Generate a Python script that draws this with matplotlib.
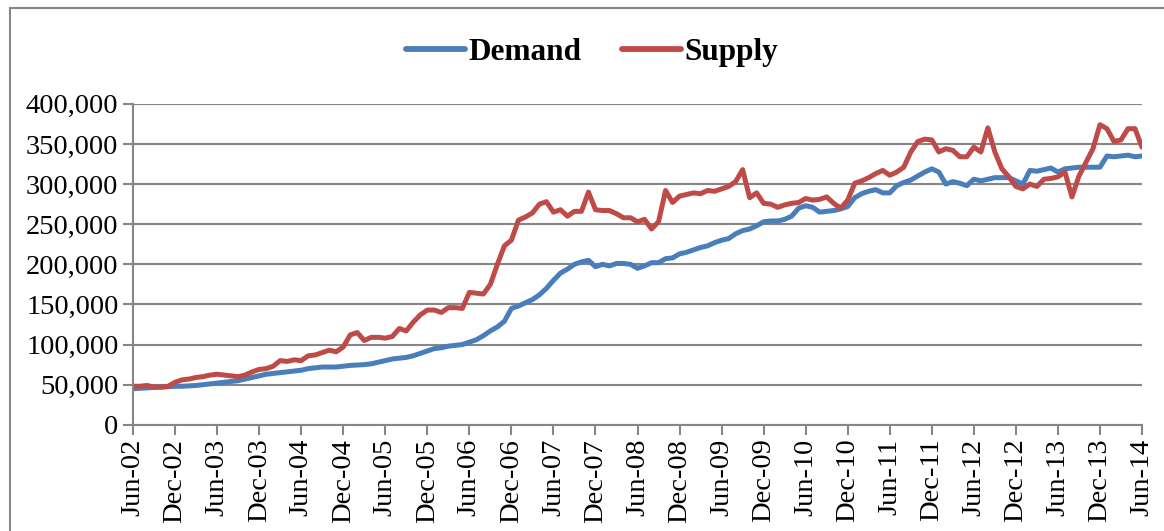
import matplotlib.pyplot as plt
from matplotlib.patches import Rectangle
from matplotlib.ticker import FuncFormatter, MultipleLocator

plt.rcParams['font.family'] = ['Liberation Serif', 'DejaVu Serif']

# monthly values, Jun-02 .. Jun-14
demand = [45, 45.5, 46, 46.5, 47, 47.5, 48, 48, 48.5, 49, 50, 51,
          52, 53, 54, 55, 57, 59, 61, 63, 64, 65, 66, 67,
          68, 70, 71, 72, 72, 72, 73, 74, 74.5, 75, 76, 78,
          80, 82, 83, 84, 86, 89, 92, 95, 96, 98, 99, 100,
          103, 106, 111, 117, 122, 129, 145, 148, 152, 156, 162, 170,
          180, 189, 194, 200, 203, 205, 197, 200, 198, 201, 201, 200,
          195, 198, 202, 202, 207, 208, 213, 215, 218, 221, 223, 227,
          230, 232, 238, 242, 244, 248, 253, 254, 254, 256, 260, 270,
          273, 271, 265, 266, 267, 269, 272, 283, 288, 291, 293, 289,
          289, 298, 302, 305, 310, 315, 319, 315, 300, 303, 301, 298,
          306, 304, 306, 308, 308, 308, 304, 300, 317, 316, 318, 320,
          315, 319, 320, 321, 321, 321, 321, 335, 334, 335, 336, 334,
          335]
supply = [48, 48, 49, 47, 47, 48, 53, 56, 57, 59, 60, 62,
          63, 62, 61, 60, 62, 66, 69, 70, 73, 80, 79, 81,
          80, 86, 87, 90, 93, 91, 97, 112, 115, 105, 109, 109,
          108, 110, 120, 117, 128, 137, 143, 143, 140, 146, 146, 145,
          165, 164, 163, 175, 200, 223, 230, 255, 259, 264, 275, 278,
          265, 268, 260, 266, 266, 290, 268, 267, 267, 263, 258, 258,
          253, 256, 244, 253, 292, 277, 285, 287, 289, 288, 292, 291,
          294, 297, 303, 318, 283, 289, 276, 275, 271, 274, 276, 277,
          282, 280, 281, 284, 276, 270, 280, 301, 304, 308, 313, 317,
          311, 315, 321, 340, 353, 356, 355, 340, 344, 342, 334, 334,
          346, 340, 370, 340, 319, 309, 297, 294, 300, 297, 306, 307,
          309, 315, 284, 310, 327, 344, 374, 369, 353, 355, 369, 369,
          346]
demand = [v * 1000 for v in demand]
supply = [v * 1000 for v in supply]

tick_labels = []
for yr in range(2, 15):
    tick_labels.append('Jun-%02d' % yr)
    if yr < 14:
        tick_labels.append('Dec-%02d' % yr)

months = list(range(len(demand)))

fig = plt.figure(figsize=(11.64, 5.31), dpi=100)
ax = fig.add_axes([0.1143, 0.2, 0.8668, 0.6045])

grid_col = '#868686'
ax.plot(months, demand, color='#4A7EBB', lw=3.6, label='Demand', solid_capstyle='round')
ax.plot(months, supply, color='#BE4B48', lw=3.6, label='Supply', solid_capstyle='round')

ax.set_xlim(0, len(demand) - 1)
ax.set_ylim(0, 400000)
ax.yaxis.set_major_locator(MultipleLocator(50000))
ax.yaxis.set_major_formatter(FuncFormatter(lambda v, p: '{:,.0f}'.format(v)))
ax.set_xticks(range(0, len(demand), 6))
ax.set_xticklabels(tick_labels, rotation=90)

ax.grid(axis='y', color=grid_col, lw=1.5)
ax.set_axisbelow(True)
for s in ['top', 'right']:
    ax.spines[s].set_visible(False)
for s in ['left', 'bottom']:
    ax.spines[s].set_color(grid_col)
    ax.spines[s].set_linewidth(1.5)
ax.tick_params(axis='both', colors=grid_col, width=1.5, length=7, labelsize=20.5,
               labelcolor='black')
ax.tick_params(axis='x', pad=3)

leg = ax.legend(loc='center', bbox_to_anchor=(0.455, 1.16), ncol=2, frameon=False,
                prop={'weight': 'bold', 'size': 22.5}, handlelength=1.9,
                handletextpad=0.1, columnspacing=1.3)
for h in leg.get_lines():
    h.set_linewidth(4.2)

fig.patches.append(Rectangle((10 / 1164, -0.1), 1.2, 1 - 8 / 531 + 0.1,
                             transform=fig.transFigure, fill=False,
                             edgecolor=grid_col, lw=1.5))

fig.savefig('out.png', dpi=100)
